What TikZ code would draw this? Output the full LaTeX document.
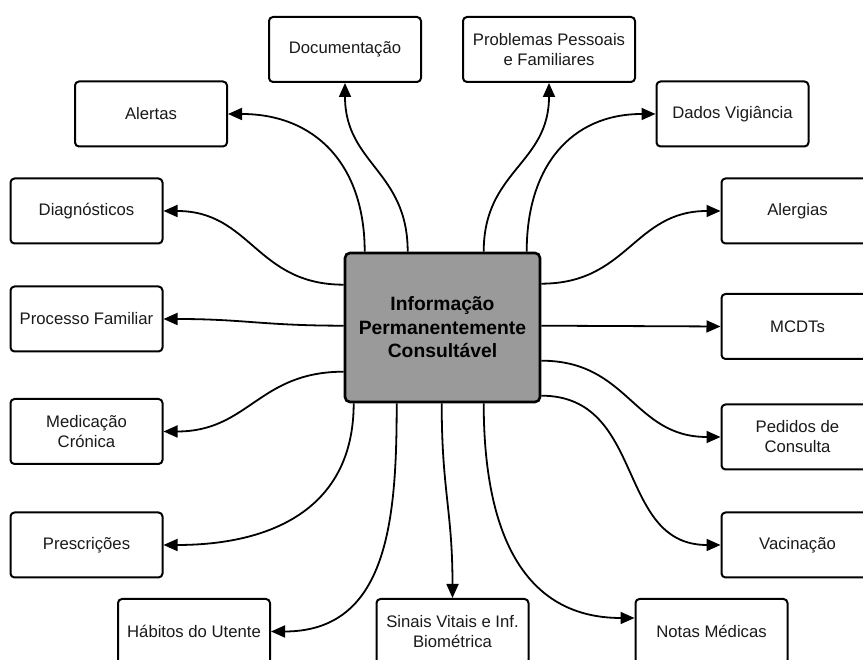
\documentclass[tikz,border=0pt]{standalone}
\usepackage{fontspec}
\setmainfont{Liberation Sans}
\usetikzlibrary{arrows.meta,calc}
\definecolor{hubgray}{HTML}{9A9A9A}
\definecolor{ink}{HTML}{1A1A1A}
\begin{document}
\begin{tikzpicture}[x=1pt,y=1pt,
  item/.style={draw=black, line width=2pt, rounded corners=4pt, fill=white,
    minimum width=152pt, minimum height=65pt, inner sep=0pt, align=center,
    text=ink, font=\fontsize{16.7}{20}\selectfont},
  hub/.style={draw=black, line width=2.6pt, rounded corners=5pt, fill=hubgray,
    minimum width=195pt, minimum height=149pt, inner sep=0pt, align=center,
    text=black, font=\fontsize{19.3}{23.5}\selectfont\bfseries},
  arr/.style={line width=1.8pt, -{Triangle[length=14pt,width=12pt]}, looseness=1.15}]
\path[use as bounding box, clip] (0,0) rectangle (863,660);

% central topic
\node[hub] (c) at (442.5,332.5) {Informação\\Permanentemente\\Consultável};

% surrounding topics
\node[item] (doc)    at (345,610.5)  {Documentação};
\node[item, minimum width=172pt] (prob) at (549,610.5) {Problemas Pessoais\\e Familiares};
\node[item] (alert)  at (151,546)    {Alertas};
\node[item] (dados)  at (732.5,546)  {Dados Vigiância};
\node[item] (diag)   at (86.5,449)   {Diagnósticos};
\node[item] (alerg)  at (797.5,449)  {Alergias};
\node[item] (proc)   at (86.5,341)   {Processo Familiar};
\node[item] (mcdt)   at (797.5,333.5){MCDTs};
\node[item] (med)    at (86.5,228.5) {Medicação\\Crónica};
\node[item] (ped)    at (797.5,223)  {Pedidos de\\Consulta};
\node[item] (presc)  at (86.5,115)   {Prescrições};
\node[item] (vac)    at (797.5,115)  {Vacinação};
\node[item] (hab)    at (194,28.5)   {Hábitos do Utente};
\node[item] (sinais) at (452.5,28.5) {Sinais Vitais e Inf.\\Biométrica};
\node[item] (notas)  at (711.5,28.5) {Notas Médicas};

% connectors leaving the top edge
\draw[arr] ($(c.north west)+(21,0)$)  to[out=90,in=0]   (alert.east);
\draw[arr] ($(c.north west)+(64,0)$)  to[out=90,in=-90] (doc.south);
\draw[arr] ($(c.north west)+(140,0)$) to[out=90,in=-90] (prob.south);
\draw[arr] ($(c.north west)+(183,0)$) to[out=90,in=180] (dados.west);

% connectors leaving the left edge
\draw[arr] ($(c.north west)+(0,-33)$)  to[out=180,in=0] (diag.east);
\draw[arr] ($(c.north west)+(0,-74)$)  to[out=180,in=0] (proc.east);
\draw[arr] ($(c.north west)+(0,-120)$) to[out=180,in=0] (med.east);

% connectors leaving the right edge
\draw[arr] ($(c.north east)+(0,-32)$)  to[out=0,in=180] (alerg.west);
\draw[arr] ($(c.north east)+(0,-74)$)  -- (mcdt.west);
\draw[arr] ($(c.north east)+(0,-109)$) to[out=0,in=180] (ped.west);
\draw[arr] ($(c.north east)+(0,-144)$) to[out=0,in=180] (vac.west);

% connectors leaving the bottom edge
\draw[arr] ($(c.south west)+(10,0)$)  to[out=-90,in=0]   (presc.east);
\draw[arr] ($(c.south west)+(53,0)$)  to[out=-90,in=0]   (hab.east);
\draw[arr] ($(c.south west)+(98,0)$)  to[out=-90,in=90]  (sinais.north);
\draw[arr] ($(c.south west)+(140,0)$) to[out=-90,in=180] ($(notas.north west)+(0,-20)$);
\end{tikzpicture}
\end{document}
